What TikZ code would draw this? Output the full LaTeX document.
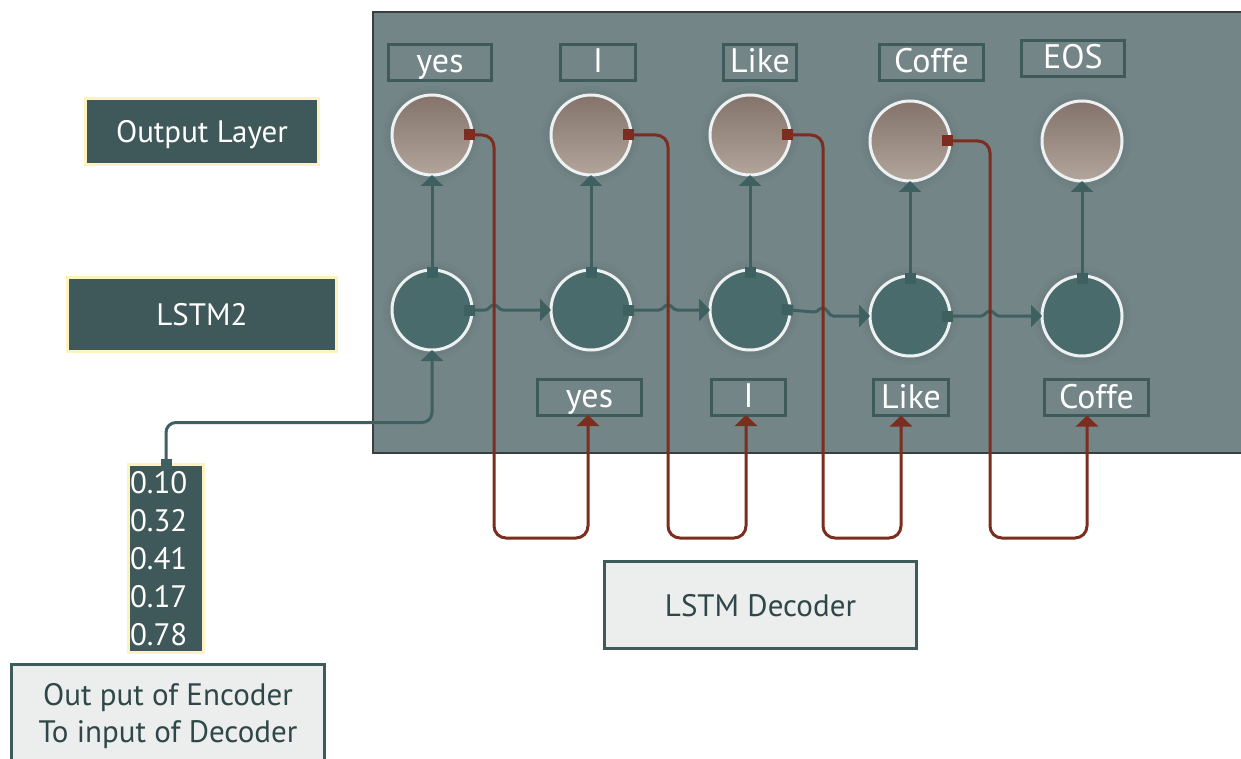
\documentclass[tikz,border=0pt]{standalone}
\usepackage{fontspec}
\setmainfont{PT Sans}
\usetikzlibrary{arrows.meta,calc}
\definecolor{panelc}{HTML}{738587}
\definecolor{panelb}{HTML}{3A3E3E}
\definecolor{darkc}{HTML}{3F5859}
\definecolor{yellc}{HTML}{FCF3C1}
\definecolor{tealc}{HTML}{3F6061}
\definecolor{redc}{HTML}{7B2D1F}
\definecolor{lightc}{HTML}{ECEEED}
\definecolor{hidc}{HTML}{4A6B6C}
\definecolor{ringc}{HTML}{EEF1F1}
\definecolor{browntop}{HTML}{83736A}
\definecolor{brownbot}{HTML}{B2A59C}
\definecolor{txtdark}{HTML}{2F4748}
\definecolor{lblb}{HTML}{3E5A5A}
\begin{document}
\begin{tikzpicture}[x=1pt,y=-1pt,
  halo/.style={preaction={draw=black, draw opacity=0.02, line width=18pt}, preaction={draw=black, draw opacity=0.02, line width=10pt}},
  hidnode/.style={circle, minimum size=80pt, inner sep=0pt, outer sep=0pt, fill=hidc, draw=ringc, line width=3pt, halo},
  outnode/.style={circle, minimum size=80pt, inner sep=0pt, outer sep=0pt, top color=browntop, bottom color=brownbot, draw=ringc, line width=3pt, halo},
  lbl/.style={draw=lblb, line width=3pt, text=white, font=\fontsize{34}{40}\selectfont, minimum height=36pt, inner sep=0pt, outer sep=0pt, text height=25pt, text depth=4pt},
  sidebox/.style={fill=darkc, draw=yellc, line width=3pt, text=white, font=\fontsize{31}{37}\selectfont, inner sep=0pt, outer sep=0pt, text height=22pt, text depth=0pt},
  lightbox/.style={fill=lightc, draw=lblb, line width=3pt, text=txtdark, font=\fontsize{31}{37.5}\selectfont, inner sep=0pt, outer sep=0pt},
  tconn/.style={draw=tealc, line width=3pt, {Square[length=11pt,width=11pt]}-{Triangle[width=22pt,length=11pt]}, shorten <=-8pt},
  rconn/.style={draw=redc, line width=3pt, {Square[length=11pt,width=11pt]}-{Triangle[width=22pt,length=11pt]}, shorten <=-8pt, rounded corners=12pt}
]
\useasboundingbox (0,0) rectangle (1241,759);
% panel
\fill[panelc] (373,12) rectangle (1241,453);
\draw[panelb, line width=2pt] (1245,12) -- (373,12) -- (373,453) -- (1245,453);

% side labels
\node[sidebox, minimum width=233pt, minimum height=66pt] (ol) at (202,131.5) {Output Layer};
\node[sidebox, minimum width=269pt, minimum height=74pt] (ls) at (202,314.5) {LSTM2};
\node[fill=darkc, draw=yellc, line width=3pt, text=white, font=\fontsize{31}{38}\selectfont, minimum width=75pt, minimum height=188pt, inner sep=0pt, outer sep=0pt, align=left, text width=72pt] (vec) at (166,558.5) {0.10\\0.32\\0.41\\0.17\\0.78};
\node[lightbox, minimum width=313pt, minimum height=103pt, align=center] (enc) at (168,716) {Out put of Encoder\\To input of Decoder};
\node[lightbox, minimum width=312pt, minimum height=87pt, text height=22pt, text depth=0pt] (dec) at (760.5,605) {LSTM Decoder};

% circles
\node[outnode] (o1) at (432,135) {};
\node[outnode] (o2) at (591,135) {};
\node[outnode] (o3) at (750,135) {};
\node[outnode] (o4) at (910,141) {};
\node[outnode] (o5) at (1082,141) {};
\node[hidnode] (h1) at (432,310) {};
\node[hidnode] (h2) at (591,310) {};
\node[hidnode] (h3) at (750,310) {};
\node[hidnode] (h4) at (910,316) {};
\node[hidnode] (h5) at (1082,316) {};

% word labels
\node[lbl, minimum width=103pt] (t1) at (440,62.5) {yes};
\node[lbl, minimum width=75pt] (t2) at (598,62.5) {I};
\node[lbl, minimum width=73pt] (t3) at (760,62.5) {Like};
\node[lbl, minimum width=104pt] (t4) at (931.5,62.5) {Coffe};
\node[lbl, minimum width=103pt] (t5) at (1073,58.5) {EOS};
\node[lbl, minimum width=104pt] (b2) at (589.5,397) {yes};
\node[lbl, minimum width=74pt] (b3) at (748.5,397) {I};
\node[lbl, minimum width=75pt] (b4) at (911,397.5) {Like};
\node[lbl, minimum width=104pt] (b5) at (1096.5,397.5) {Coffe};

% vertical connectors
\draw[tconn] (h1.north) -- (o1.south);
\draw[tconn] (h2.north) -- (o2.south);
\draw[tconn] (h3.north) -- (o3.south);
\draw[tconn] (h4.north) -- (o4.south);
\draw[tconn] (h5.north) -- (o5.south);

% horizontal connectors with hops
\draw[tconn] (h1.east) -- (485,310) .. controls +(4,0) and +(-4,0) .. (494,305) .. controls +(4,0) and +(-4,0) .. (503,310) -- (h2.west);
\draw[tconn] (h2.east) -- (659,310) .. controls +(4,0) and +(-4,0) .. (668,305) .. controls +(4,0) and +(-4,0) .. (677,310) -- (h3.west);
\draw[tconn] (h3.east) -- (814,312) .. controls +(4,0) and +(-4,0) .. (823,308) .. controls +(4,0) and +(-4,0) .. (833,316) -- (h4.west);
\draw[tconn] (h4.east) -- (981,316) .. controls +(4,0) and +(-4,0) .. (990,311) .. controls +(4,0) and +(-4,0) .. (999,316) -- (h5.west);

% encoder vector to first LSTM
\draw[tconn, shorten <=-5pt, rounded corners=10pt] (vec.north) -- ++(0,-42) -| (h1.south);

% red feedback connectors
\draw[rconn] (o1.east) -| (494,538) -| ([xshift=-1.5pt]b2.south);
\draw[rconn] (o2.east) -| (668,538) -| ([xshift=-2.5pt]b3.south);
\draw[rconn] (o3.east) -| (823,538) -| ([xshift=-10pt]b4.south);
\draw[rconn] (o4.east) -| (990,538) -| ([xshift=-9.5pt]b5.south);
\end{tikzpicture}
\end{document}
